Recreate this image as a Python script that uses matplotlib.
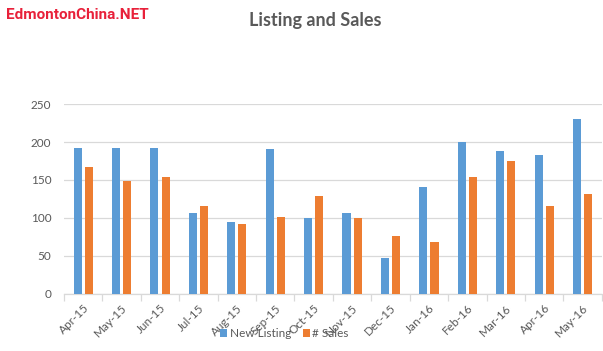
import numpy as np
import matplotlib.pyplot as plt

months = ["Apr-15", "May-15", "Jun-15", "Jul-15", "Aug-15", "Sep-15", "Oct-15",
          "Nov-15", "Dec-15", "Jan-16", "Feb-16", "Mar-16", "Apr-16", "May-16"]
new_listing = [192, 192, 192, 107, 95, 191, 100, 107, 47, 141, 200, 188, 183, 230]
sales = [167, 149, 154, 116, 92, 101, 129, 100, 76, 68, 154, 175, 116, 132]

BLUE = "#5B9BD5"
ORANGE = "#ED7D31"
GRAY = "#595959"
GRID = "#D9D9D9"

plt.rcParams["font.family"] = ["Lato", "DejaVu Sans"]

fig = plt.figure(figsize=(6.03, 3.51), dpi=100)
ax = fig.add_axes([0.106, 0.1624, 0.892, 0.5413])

x = np.arange(len(months))
w = 0.21
ax.bar(x - 0.145, new_listing, width=w, color=BLUE, label="New Listing", zorder=3)
ax.bar(x + 0.145, sales, width=w, color=ORANGE, label="# Sales", zorder=3)

ax.set_xlim(-0.5, len(months) - 0.5)
ax.set_ylim(0, 250)
ax.set_yticks(range(0, 251, 50))
ax.yaxis.grid(True, color=GRID, linewidth=0.9, zorder=0)
ax.tick_params(axis="y", length=0, labelsize=8.5, labelcolor=GRAY, pad=9)

ax.set_xticks(x)
ax.set_xticklabels(months, rotation=45, ha="right", rotation_mode="anchor",
                   fontsize=8.5, color=GRAY)
ax.tick_params(axis="x", length=0, pad=6)
# small tick marks between categories
ax.set_xticks(np.arange(-0.5, len(months), 1.0), minor=True)
ax.tick_params(axis="x", which="minor", length=5, color=GRID, width=0.9)

for side in ["top", "right", "left"]:
    ax.spines[side].set_visible(False)
ax.spines["bottom"].set_color(GRID)
ax.spines["bottom"].set_linewidth(0.9)

fig.text(0.522, 0.943, "Listing and Sales", ha="center", va="center",
         fontsize=13, fontweight="bold", color=GRAY)
fig.text(0.01, 0.958, "EdmontonChina.NET", ha="left", va="center",
         fontsize=11, fontweight="bold", color="#E8213A",
         family=["Roboto", "DejaVu Sans"])

fig.legend(loc="center", bbox_to_anchor=(0.472, 0.05), ncol=2, frameon=False,
           fontsize=8.5, labelcolor=GRAY, handlelength=0.6, handleheight=0.6,
           handletextpad=0.2, columnspacing=1.0)

fig.savefig("out.png", dpi=100)
